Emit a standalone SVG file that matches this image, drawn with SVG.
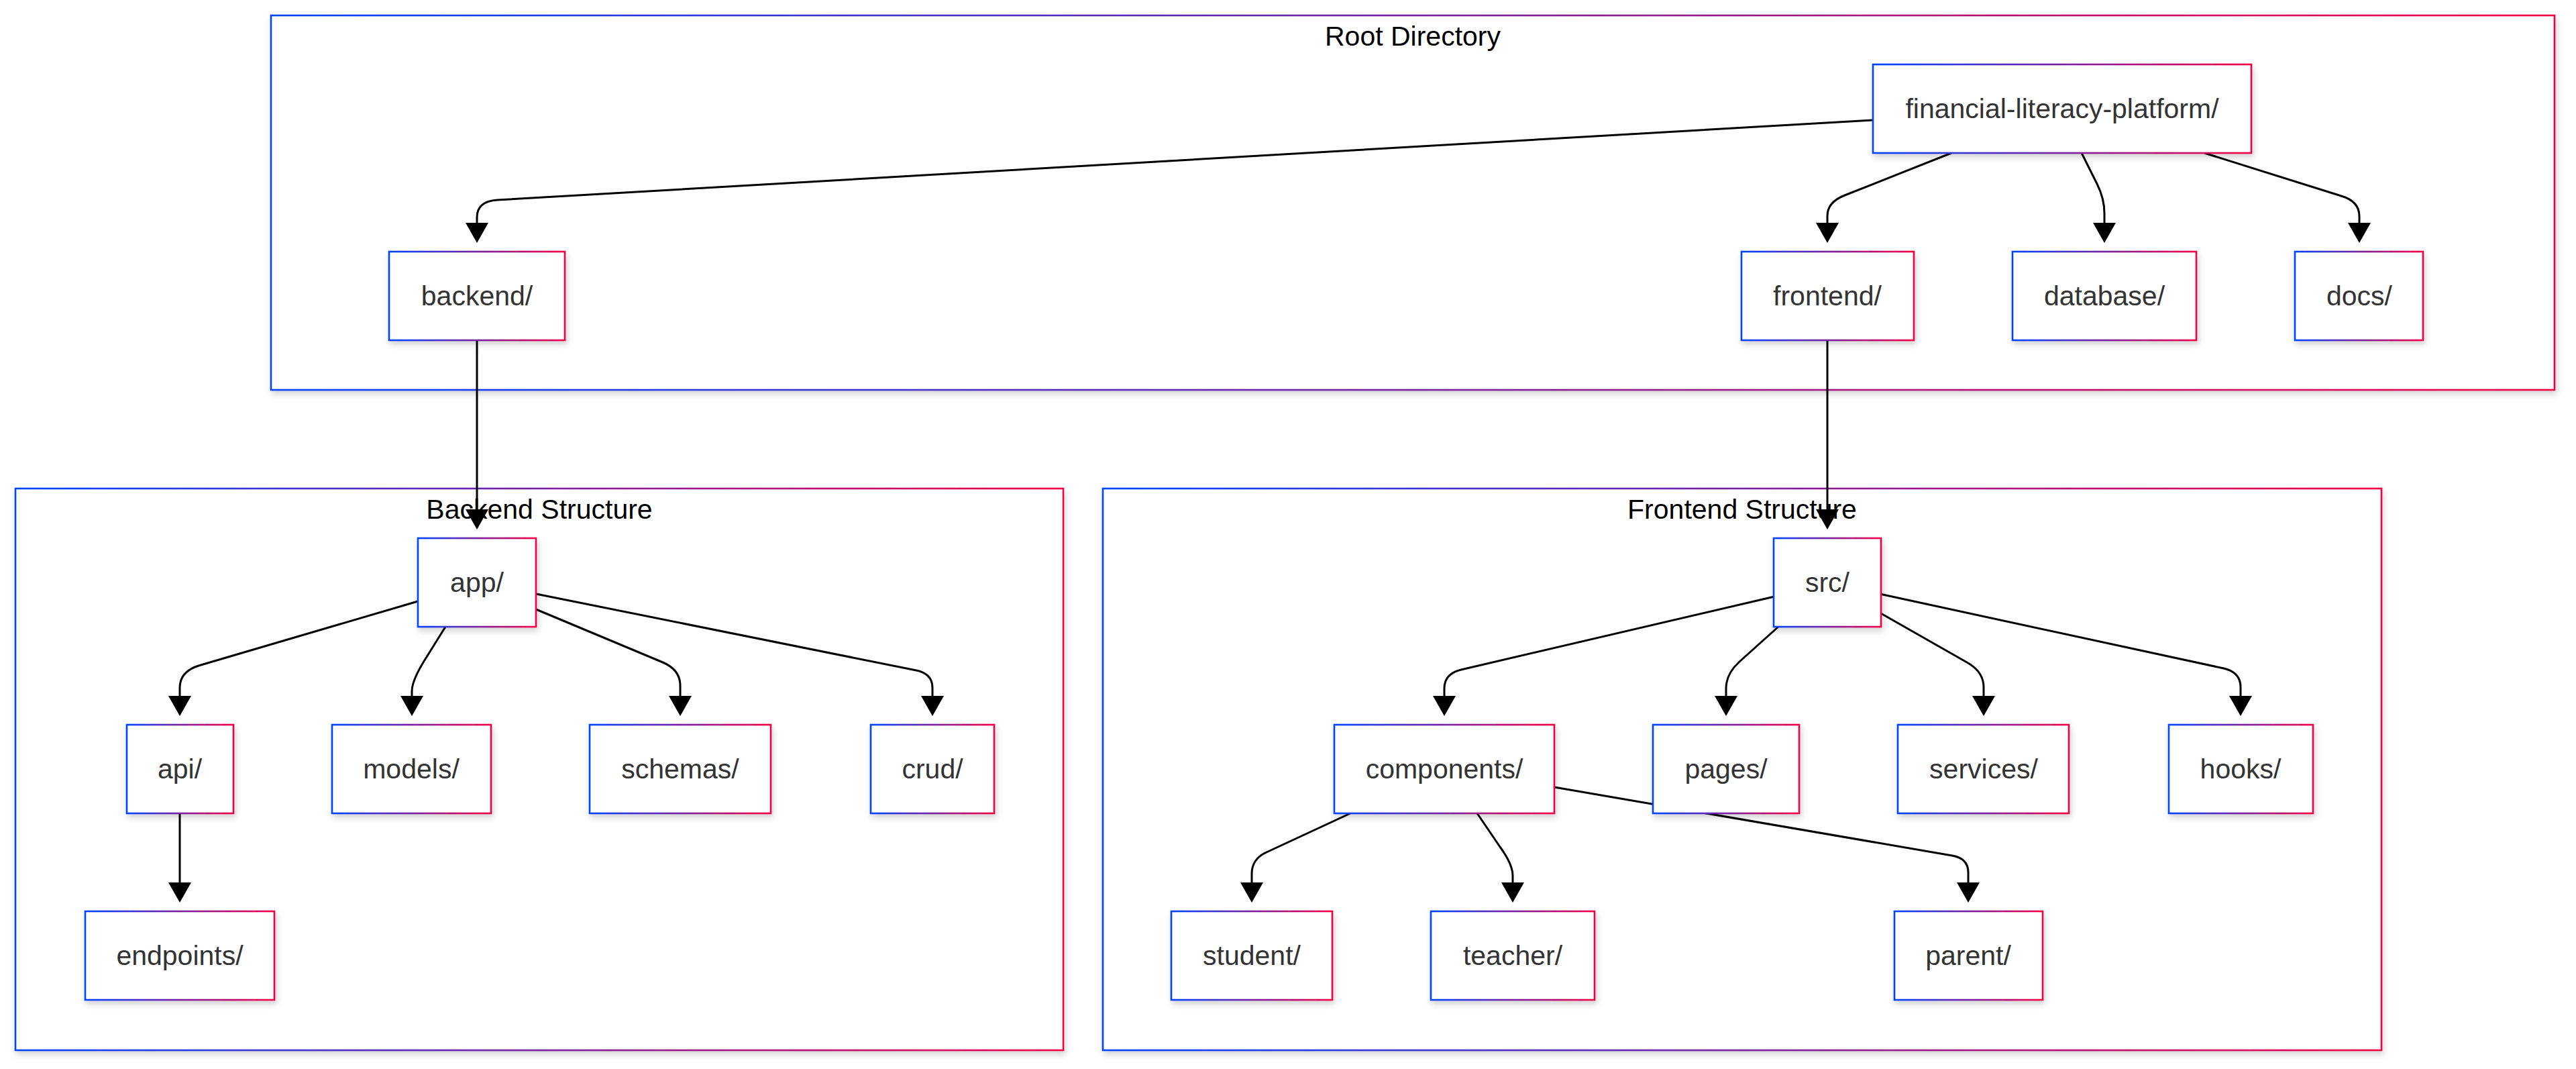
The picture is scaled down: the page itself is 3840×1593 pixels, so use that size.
<svg xmlns="http://www.w3.org/2000/svg" width="3840" height="1593" viewBox="0 0 3840 1593">
  <defs>
    <linearGradient id="edgeGrad" x1="0" y1="0" x2="1" y2="0">
      <stop offset="0" stop-color="#0044ff"/>
      <stop offset="1" stop-color="#f20045"/>
    </linearGradient>
    <filter id="shadow" x="-10%" y="-10%" width="120%" height="130%">
      <feDropShadow dx="2" dy="5" stdDeviation="5" flood-color="#000" flood-opacity="0.18"/>
    </filter>
    <marker id="arrow" viewBox="0 0 30 34" refX="0" refY="17" markerWidth="30" markerHeight="34" markerUnits="userSpaceOnUse" orient="auto">
      <path d="M0,0 L30,17 L0,34 z" fill="#000"/>
    </marker>
    <style>
      .cluster rect { fill: #fff; stroke: url(#edgeGrad); stroke-width: 2.6; filter: url(#shadow); }
      .cluster text { font-family: "Liberation Sans", Arial, sans-serif; font-size: 41px; fill: #000; text-anchor: middle; }
      .node rect { fill: #fff; stroke: url(#edgeGrad); stroke-width: 2.6; filter: url(#shadow); }
      .node text { font-family: "Liberation Sans", Arial, sans-serif; font-size: 41px; fill: #333; text-anchor: middle; }
      .edges path { fill: none; stroke: #000; stroke-width: 3; marker-end: url(#arrow); }
    </style>
  </defs>

  <rect width="3840" height="1593" fill="#fff"/>

  <!-- subgraph frames -->
  <g id="cluster-root" class="cluster">
    <rect x="404" y="23" width="3404" height="558"/>
    <text x="2106" y="68">Root Directory</text>
  </g>
  <g id="cluster-backend" class="cluster">
    <rect x="23" y="728" width="1562" height="837"/>
    <text x="804" y="773">Backend Structure</text>
  </g>
  <g id="cluster-frontend" class="cluster">
    <rect x="1644" y="728" width="1906" height="837"/>
    <text x="2597" y="773">Frontend Structure</text>
  </g>

  <!-- connectors -->
  <g id="edges" class="edges">
    <path d="M2792,179 L741,298 Q711,300 711,324 L711,332"/>
    <path d="M2909,228 L2750,291 Q2724,301 2724,322 L2724,332"/>
    <path d="M3103,228 L3126,274 Q3137,296 3137,318 L3137,332"/>
    <path d="M3286,228 L3490,292 Q3517,300 3517,322 L3517,332"/>
    <path d="M711,507 L711,759"/>
    <path d="M2724,507 L2724,759"/>
    <path d="M623,896 L296,992 Q268,1001 268,1025 L268,1037"/>
    <path d="M664,934 L631,987 Q614,1015 614,1030 L614,1037"/>
    <path d="M799,908 L988,987 Q1014,998 1014,1022 L1014,1037"/>
    <path d="M799,885 L1366,999 Q1390,1004 1390,1025 L1390,1037"/>
    <path d="M268,1212 L268,1315"/>
    <path d="M2645,889 L2178,998 Q2153,1004 2153,1026 L2153,1037"/>
    <path d="M2652,933 L2593,986 Q2573,1004 2573,1026 L2573,1037"/>
    <path d="M2802,913 L2932,987 Q2957,1001 2957,1024 L2957,1037"/>
    <path d="M2802,885 L3315,996 Q3340,1002 3340,1024 L3340,1037"/>
    <path d="M2013,1212 L1888,1270 Q1866,1280 1866,1302 L1866,1315"/>
    <path d="M2202,1212 L2236,1262 Q2255,1288 2255,1305 L2255,1315"/>
    <path d="M2317,1173 L2910,1275 Q2934,1279 2934,1300 L2934,1315"/>
  </g>

  <!-- root level -->
  <g id="node-root" class="node">
    <rect x="2792" y="96" width="564" height="132"/>
    <text x="3074" y="176">financial-literacy-platform/</text>
  </g>
  <g id="node-backend" class="node">
    <rect x="580" y="375" width="262" height="132"/>
    <text x="711" y="455">backend/</text>
  </g>
  <g id="node-frontend" class="node">
    <rect x="2596" y="375" width="257" height="132"/>
    <text x="2724" y="455">frontend/</text>
  </g>
  <g id="node-database" class="node">
    <rect x="3000" y="375" width="274" height="132"/>
    <text x="3137" y="455">database/</text>
  </g>
  <g id="node-docs" class="node">
    <rect x="3421" y="375" width="191" height="132"/>
    <text x="3517" y="455">docs/</text>
  </g>

  <!-- backend -->
  <g id="node-app" class="node">
    <rect x="623" y="802" width="176" height="132"/>
    <text x="711" y="882">app/</text>
  </g>
  <g id="node-api" class="node">
    <rect x="189" y="1080" width="159" height="132"/>
    <text x="268" y="1160">api/</text>
  </g>
  <g id="node-models" class="node">
    <rect x="495" y="1080" width="237" height="132"/>
    <text x="613" y="1160">models/</text>
  </g>
  <g id="node-schemas" class="node">
    <rect x="879" y="1080" width="270" height="132"/>
    <text x="1014" y="1160">schemas/</text>
  </g>
  <g id="node-crud" class="node">
    <rect x="1298" y="1080" width="184" height="132"/>
    <text x="1390" y="1160">crud/</text>
  </g>
  <g id="node-endpoints" class="node">
    <rect x="127" y="1358" width="282" height="132"/>
    <text x="268" y="1438">endpoints/</text>
  </g>

  <!-- frontend -->
  <g id="node-src" class="node">
    <rect x="2644" y="802" width="160" height="132"/>
    <text x="2724" y="882">src/</text>
  </g>
  <g id="node-components" class="node">
    <rect x="1989" y="1080" width="328" height="132"/>
    <text x="2153" y="1160">components/</text>
  </g>
  <g id="node-pages" class="node">
    <rect x="2464" y="1080" width="218" height="132"/>
    <text x="2573" y="1160">pages/</text>
  </g>
  <g id="node-services" class="node">
    <rect x="2829" y="1080" width="255" height="132"/>
    <text x="2957" y="1160">services/</text>
  </g>
  <g id="node-hooks" class="node">
    <rect x="3233" y="1080" width="215" height="132"/>
    <text x="3340" y="1160">hooks/</text>
  </g>
  <g id="node-student" class="node">
    <rect x="1746" y="1358" width="240" height="132"/>
    <text x="1866" y="1438">student/</text>
  </g>
  <g id="node-teacher" class="node">
    <rect x="2133" y="1358" width="244" height="132"/>
    <text x="2255" y="1438">teacher/</text>
  </g>
  <g id="node-parent" class="node">
    <rect x="2824" y="1358" width="221" height="132"/>
    <text x="2934" y="1438">parent/</text>
  </g>
</svg>
